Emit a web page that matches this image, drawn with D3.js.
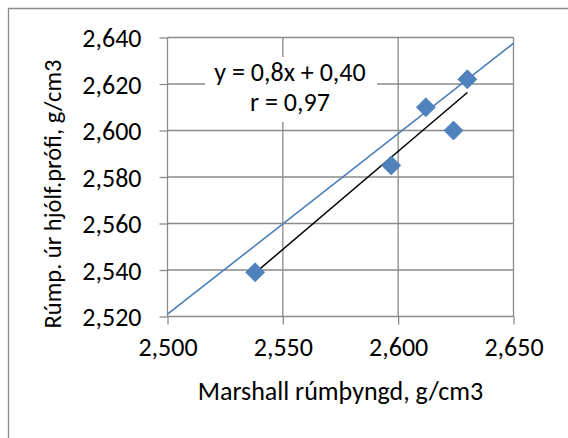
<!DOCTYPE html>
<html>
<head>
<meta charset="utf-8">
<script src="https://cdn.jsdelivr.net/npm/d3@7"></script>
<style>
  html, body { margin: 0; padding: 0; background: #fff; }
  svg { display: block; }
  text { font-family: Carlito, Calibri, Lato, "Open Sans", sans-serif; fill: #000; }
</style>
</head>
<body>
<svg id="chart" width="568" height="438"></svg>
<script>
// Marshall density vs. gyratory-compactor density (g/cm3, shown x1000)
const marshall = [2538, 2597, 2612, 2624, 2630];
const gyratory = [2539, 2585, 2610, 2600, 2622];

// Reference line drawn across the full x range
const refLineX = [2500, 2650];
const refLineY = [2521, 2637.5];

const xTicks = [2500, 2550, 2600, 2650];
const yTicks = [2520, 2540, 2560, 2580, 2600, 2620, 2640];

const equationText = "y = 0,8x + 0,40";
const corrText = "r = 0,97";
const xTitle = "Marshall rúmþyngd, g/cm3";
const yTitle = "Rúmp. úr hjólf.prófi, g/cm3";

const W = 568, H = 438;
const plot = { left: 167.5, right: 513.5, top: 37.5, bottom: 316.5 };
const FS = 26;

const svg = d3.select("#chart");
const tickFmt = d => { const s = String(d); return s[0] + "," + s.slice(1); };

const x = d3.scaleLinear().domain([2500, 2650]).range([plot.left, plot.right]);
const y = d3.scaleLinear().domain([2520, 2640]).range([plot.bottom, plot.top]);

// chart frame
svg.append("path")
  .attr("d", `M8.5,${H + 2} V8.5 H${W + 2}`)
  .attr("fill", "none")
  .attr("stroke", "#8c8c8c")
  .attr("stroke-width", 1.3);

const grid = svg.append("g").attr("stroke", "#8a8a8a").attr("stroke-width", 1.3);
// horizontal gridlines
grid.selectAll("line.h").data(yTicks).join("line")
  .attr("x1", plot.left).attr("x2", plot.right)
  .attr("y1", d => y(d)).attr("y2", d => y(d));
// vertical gridlines
grid.selectAll("line.v").data(xTicks).join("line")
  .attr("y1", plot.top).attr("y2", plot.bottom)
  .attr("x1", d => x(d)).attr("x2", d => x(d));

// axes with outside tick marks
const xAxis = d3.axisBottom(x).tickValues(xTicks).tickFormat(tickFmt).tickSize(8).tickPadding(13);
const yAxis = d3.axisLeft(y).tickValues(yTicks).tickFormat(tickFmt).tickSize(8).tickPadding(18);

const gx = svg.append("g").attr("transform", `translate(0,${plot.bottom})`).call(xAxis);
const gy = svg.append("g").attr("transform", `translate(${plot.left},0)`).call(yAxis);
[gx, gy].forEach(g => {
  g.select(".domain").remove();
  g.selectAll(".tick line").attr("stroke", "#8a8a8a").attr("stroke-width", 1.3);
  g.selectAll(".tick text").attr("font-size", FS).attr("fill", "#000")
    .style("font-family", "Carlito, Calibri, Lato, sans-serif");
});
gx.selectAll(".tick text").attr("dy", "0.71em");
gy.selectAll(".tick text").attr("dy", "0.35em");

// reference line
svg.append("line")
  .attr("x1", x(refLineX[0])).attr("y1", y(refLineY[0]))
  .attr("x2", x(refLineX[1])).attr("y2", y(refLineY[1]))
  .attr("stroke", "#4a7ebb").attr("stroke-width", 1.6);

// least-squares trendline over the data range
const mx = d3.mean(marshall), my = d3.mean(gyratory);
const sxy = d3.sum(marshall, (v, i) => (v - mx) * (gyratory[i] - my));
const sxx = d3.sum(marshall, v => (v - mx) ** 2);
const slope = sxy / sxx, icpt = my - slope * mx;
const xmin = d3.min(marshall), xmax = d3.max(marshall);
svg.append("line")
  .attr("x1", x(xmin)).attr("y1", y(slope * xmin + icpt))
  .attr("x2", x(xmax)).attr("y2", y(slope * xmax + icpt))
  .attr("stroke", "#000").attr("stroke-width", 1.5);

// data markers (diamonds)
const pts = marshall.map((v, i) => ({ x: v, y: gyratory[i] }));
svg.append("g").selectAll("path").data(pts).join("path")
  .attr("transform", d => `translate(${x(d.x)},${y(d.y)})`)
  .attr("d", "M0,-9.5 L9.5,0 L0,9.5 L-9.5,0 Z")
  .attr("fill", "#4f81bd")
  .attr("stroke", "#4a7ebb").attr("stroke-width", 0.8);

// equation label
const lab = svg.append("g");
lab.append("rect")
  .attr("x", 205).attr("y", 57).attr("width", 172).attr("height", 65)
  .attr("fill", "#fff");
lab.append("text").attr("x", 290).attr("y", 81).attr("text-anchor", "middle")
  .attr("font-size", FS).text(equationText);
lab.append("text").attr("x", 290).attr("y", 111).attr("text-anchor", "middle")
  .attr("font-size", FS).text(corrText);

// axis titles
svg.append("text")
  .attr("x", (plot.left + plot.right) / 2).attr("y", 400)
  .attr("text-anchor", "middle").attr("font-size", FS)
  .text(xTitle);
svg.append("text")
  .attr("transform", `translate(61,194) rotate(-90)`)
  .attr("text-anchor", "middle").attr("font-size", 24.5)
  .text(yTitle);
</script>
</body>
</html>
